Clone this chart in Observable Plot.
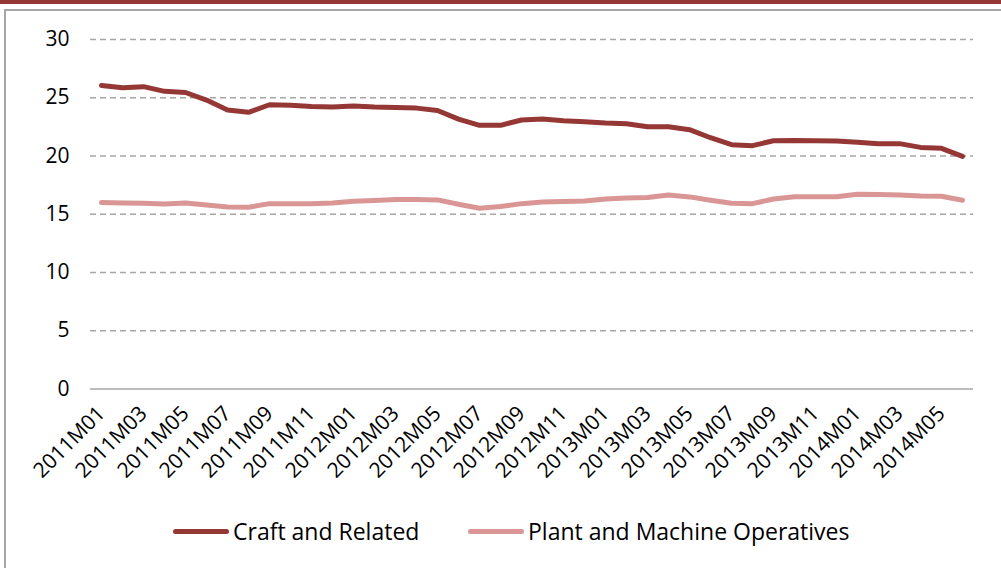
<!DOCTYPE html>
<html><head><meta charset="utf-8">
<script src="https://cdn.jsdelivr.net/npm/d3@7"></script>
<script src="https://cdn.jsdelivr.net/npm/@observablehq/plot@0.6"></script>
<style>
html,body{margin:0;padding:0;background:#fff;width:1001px;height:568px;overflow:hidden;font-family:"Open Sans",Lato,sans-serif;}
#band{position:absolute;left:0;top:0;width:1001px;height:4px;background:#953735;}
#frame{position:absolute;left:4px;top:9px;width:1010px;height:600px;border-left:2px solid #A6A6A6;border-top:2px solid #A6A6A6;box-sizing:border-box;}
#chart{position:absolute;left:0;top:0;}
#legend{position:absolute;top:517px;left:0;width:1001px;height:28px;font-size:23px;color:#000;}
.item{position:absolute;top:0;display:flex;align-items:center;height:28px;}
.sw{width:56px;height:5px;border-radius:3px;margin-right:4px;}
</style></head>
<body>
<div id="band"></div>
<div id="frame"></div>
<div id="chart"></div>
<div id="legend"></div>
<script>
const months = ["2011M01","2011M02","2011M03","2011M04","2011M05","2011M06","2011M07","2011M08","2011M09","2011M10","2011M11","2011M12",
"2012M01","2012M02","2012M03","2012M04","2012M05","2012M06","2012M07","2012M08","2012M09","2012M10","2012M11","2012M12",
"2013M01","2013M02","2013M03","2013M04","2013M05","2013M06","2013M07","2013M08","2013M09","2013M10","2013M11","2013M12",
"2014M01","2014M02","2014M03","2014M04","2014M05","2014M06"];
const tickLabels = ["2011M01","2011M03","2011M05","2011M07","2011M09","2011M11","2012M01","2012M03","2012M05","2012M07","2012M09","2012M11",
"2013M01","2013M03","2013M05","2013M07","2013M09","2013M11","2014M01","2014M03","2014M05"];
const yTicks = [0,5,10,15,20,25,30];
const craft = [26.05,25.85,25.95,25.55,25.45,24.8,23.95,23.75,24.4,24.35,24.25,24.2,
24.3,24.2,24.17,24.11,23.91,23.17,22.63,22.63,23.09,23.17,23.03,22.94,
22.83,22.77,22.51,22.51,22.26,21.57,20.97,20.89,21.31,21.34,21.31,21.29,
21.17,21.06,21.06,20.74,20.66,19.97];
const plant = [16.0,15.97,15.94,15.89,15.97,15.8,15.63,15.6,15.91,15.91,15.91,15.97,
16.11,16.17,16.26,16.26,16.23,15.86,15.51,15.66,15.91,16.06,16.09,16.14,
16.31,16.4,16.43,16.65,16.49,16.2,15.94,15.91,16.31,16.51,16.51,16.51,
16.71,16.69,16.66,16.57,16.54,16.2];
const seriesNames = ["Craft and Related","Plant and Machine Operatives"];
const seriesColors = ["#953735","#D99694"];

const rows = [];
months.forEach((m,i)=>{
  rows.push({month:m, value:craft[i], series:seriesNames[0]});
  rows.push({month:m, value:plant[i], series:seriesNames[1]});
});

const chart = Plot.plot({
  width:1001, height:510,
  marginLeft:90, marginRight:28, marginTop:39, marginBottom:121.5,
  style:{fontFamily:"'Open Sans', Lato, sans-serif", fontSize:"21px", color:"#000", background:"transparent", overflow:"visible"},
  x:{type:"point", domain:months, padding:0.5},
  y:{domain:[0,30], ticks:yTicks},
  color:{domain:seriesNames, range:seriesColors},
  marks:[
    Plot.ruleY(yTicks.filter(d=>d>0), {stroke:"#A6A6A6", strokeWidth:1.3, strokeDasharray:"6,4"}),
    Plot.ruleY([0], {stroke:"#A6A6A6", strokeWidth:1.5}),
    Plot.axisY({ticks:yTicks, tickSize:0, tickPadding:21, fontSize:21, label:null}),
    Plot.axisX({ticks:tickLabels, tickSize:0, tickRotate:-45, tickPadding:21, fontSize:21, label:null}),
    Plot.line(rows, {x:"month", y:"value", z:"series", stroke:"series", strokeWidth:5, strokeLinejoin:"round", strokeLinecap:"round"})
  ]
});
document.getElementById("chart").appendChild(chart);

const legend = document.getElementById("legend");
const lefts = [173, 468];
seriesNames.forEach((n,i)=>{
  const it = document.createElement("div");
  it.className="item"; it.style.left = lefts[i]+"px";
  const sw = document.createElement("div"); sw.className="sw"; sw.style.background = seriesColors[i];
  const tx = document.createElement("span"); tx.textContent = n;
  it.appendChild(sw); it.appendChild(tx);
  legend.appendChild(it);
});
</script>
</body></html>
